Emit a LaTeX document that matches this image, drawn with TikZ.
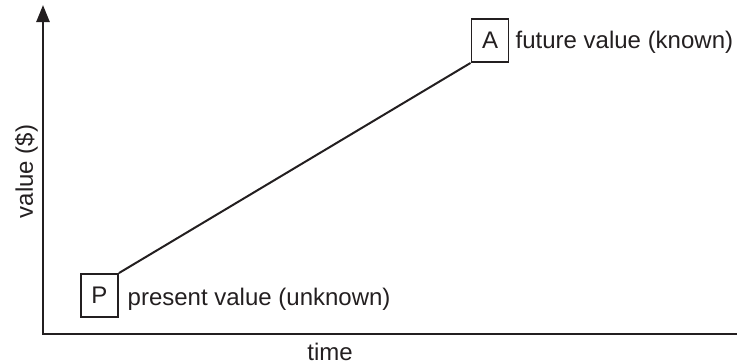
\documentclass[tikz,border=0pt]{standalone}
\usepackage{fontspec}
\setmainfont{Liberation Sans}
\usetikzlibrary{arrows.meta}
\definecolor{ink}{RGB}{35,31,32}
\begin{document}
\begin{tikzpicture}[x=1pt,y=-1pt,
  txt/.style={inner sep=0pt,font=\fontsize{24}{28}\selectfont,text=ink},
  valbox/.style={draw=ink,line width=1.9pt,minimum width=37pt,minimum height=43pt,inner sep=0pt,font=\fontsize{24}{28}\selectfont,text=ink},
  axis/.style={draw=ink,line width=2.5pt},
  conn/.style={draw=ink,line width=2pt}]
\useasboundingbox (0,0) rectangle (737,364);
\coordinate (top) at (43,5);
\coordinate (orig) at (43,334);
\coordinate (right) at (737,334);
\draw[axis,{Triangle[length=17pt,width=13pt]}-,line join=miter] (top) -- (orig) -- (right);
\node[valbox] (P) at (99.5,295.5) {P};
\node[valbox] (A) at (490,40.5) {A};
\draw[conn] (P.north east) -- (A.south west);
\node[txt,anchor=base west] (pl) at (127.5,305) {present value (unknown)};
\node[txt,anchor=base west] (al) at (515.5,48) {future value (known)};
\node[txt,anchor=base] (time) at (330,360) {time};
\node[txt,rotate=90,anchor=center] (val) at (26.5,171.5) {value (\$)};
\end{tikzpicture}
\end{document}
